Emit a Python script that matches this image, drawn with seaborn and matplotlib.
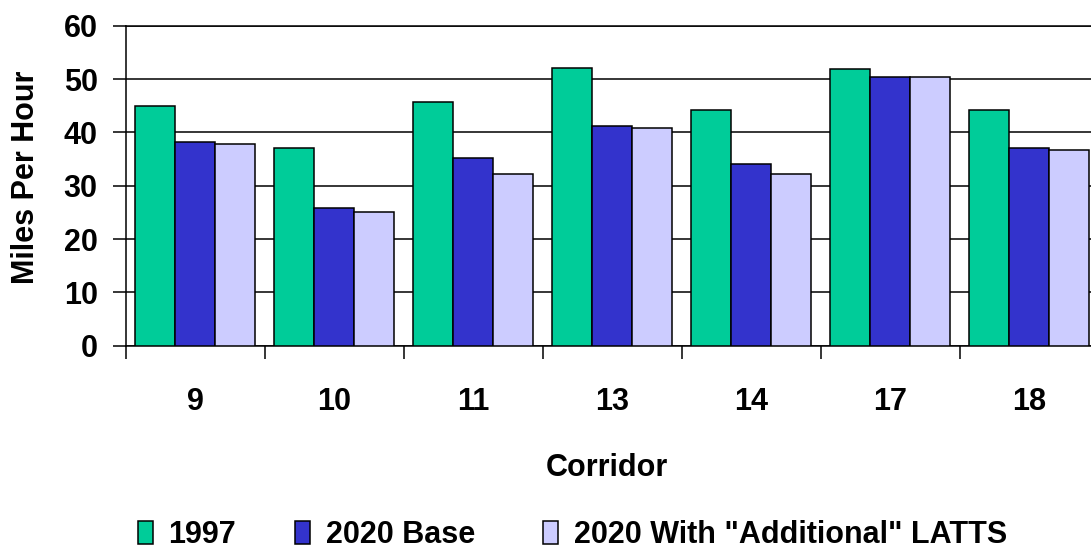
import numpy as np
import pandas as pd
import matplotlib
matplotlib.use("Agg")
import matplotlib.pyplot as plt
import seaborn as sns
from matplotlib.patches import Patch

corridors = ["9", "10", "11", "13", "14", "17", "18"]
series_names = ["1997", "2020 Base", "2020 With \"Additional\" LATTS"]
speed_1997 = [45.0, 37.1, 45.7, 52.1, 44.2, 51.8, 44.2]
speed_2020_base = [38.2, 25.8, 35.2, 41.2, 34.1, 50.3, 37.1]
speed_2020_latts = [37.9, 25.1, 32.2, 40.8, 32.2, 50.3, 36.7]
colors = ["#00CC99", "#3333CC", "#CCCCFF"]
y_ticks = [0, 10, 20, 30, 40, 50, 60]

rows = []
for name, vals in zip(series_names, [speed_1997, speed_2020_base, speed_2020_latts]):
    for c, v in zip(corridors, vals):
        rows.append({"Corridor": c, "Series": name, "MPH": v})
df = pd.DataFrame(rows)

sns.set_theme(style="white")
plt.rcParams["font.family"] = ["Liberation Sans", "DejaVu Sans"]
plt.rcParams["font.weight"] = "bold"
for key in ["text.color", "axes.labelcolor", "xtick.color", "ytick.color"]:
    plt.rcParams[key] = "black"

W, H = 1091, 552
FS = 22
LW = 1.1

fig = plt.figure(figsize=(W / 100, H / 100), dpi=100)
# plot area runs slightly past the right edge of the canvas
x0, x1, y_top, y_bot = 125.5, 1098.5, 25.7, 345.7
ax = fig.add_axes([x0 / W, 1 - y_bot / H, (x1 - x0) / W, (y_bot - y_top) / H])

sns.barplot(data=df, x="Corridor", y="MPH", hue="Series", order=corridors,
            hue_order=series_names, palette=colors, width=0.863,
            edgecolor="black", linewidth=LW, saturation=1, ax=ax,
            legend=False, zorder=3)

ax.set_xlim(-0.5, len(corridors) - 0.5)
ax.set_ylim(0, 60)
ax.set_yticks(y_ticks)
ax.set_yticklabels([str(t) for t in y_ticks], fontsize=FS, fontweight="bold",
                   color="black")
ax.yaxis.grid(True, color="black", linewidth=LW, zorder=0)
ax.xaxis.grid(False)
ax.set_axisbelow(True)

# category labels centred, tick marks at category boundaries
ax.set_xticks(range(len(corridors)))
ax.set_xticklabels(corridors, fontsize=FS, fontweight="bold", color="black")
ax.tick_params(axis="x", which="major", length=0, pad=29.5)
ax.set_xticks(np.arange(-0.5, len(corridors), 1), minor=True)
ax.tick_params(axis="x", which="minor", length=9.5, width=LW, color="black",
               direction="out", bottom=True)
ax.tick_params(axis="y", which="major", length=9.5, width=LW, color="black",
               direction="out", left=True, pad=10.5)

for side in ["left", "bottom", "right", "top"]:
    ax.spines[side].set_visible(True)
    ax.spines[side].set_color("black")
    ax.spines[side].set_linewidth(LW)

ax.set_xlabel("Corridor", fontsize=FS, fontweight="bold", va="top", color="black")
ax.xaxis.set_label_coords((607 - x0) / (x1 - x0), -(453 - y_bot) / (y_bot - y_top))
ax.set_ylabel("Miles Per Hour", fontsize=FS, fontweight="bold", color="black")
ax.yaxis.set_label_coords(-(x0 - 41) / (x1 - x0), (y_bot - 177.5) / (y_bot - y_top))

# one legend entry per series, each placed along the bottom row
entry_left = [138, 295, 543]
for name, c, xl in zip(series_names, colors, entry_left):
    h = Patch(facecolor=c, edgecolor="black", linewidth=LW)
    leg = fig.legend([h], [name], loc="center left", bbox_to_anchor=(xl / W, 1 - 535 / H),
                     frameon=False, handlelength=0.5, handleheight=0.75,
                     handletextpad=0.5, borderaxespad=0, borderpad=0,
                     prop={"size": FS, "weight": "bold"})
    for t in leg.get_texts():
        t.set_color("black")

fig.savefig("out.png", dpi=100)
